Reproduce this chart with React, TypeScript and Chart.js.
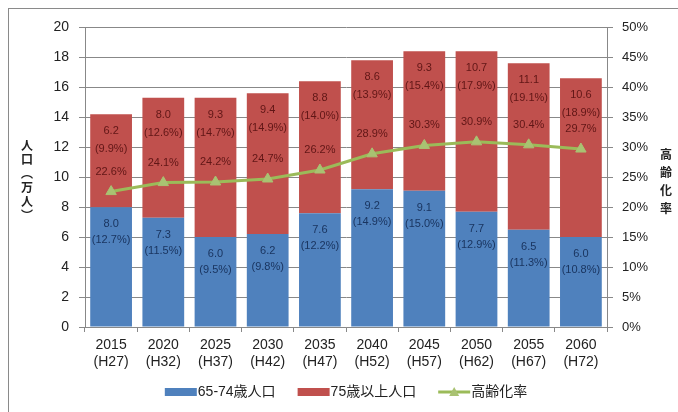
import React, { useEffect, useRef } from 'react';
import { Chart, registerables } from 'chart.js';

Chart.register(...registerables);

const years = ['2015', '2020', '2025', '2030', '2035', '2040', '2045', '2050', '2055', '2060'];
const heisei = ['(H27)', '(H32)', '(H37)', '(H42)', '(H47)', '(H52)', '(H57)', '(H62)', '(H67)', '(H72)'];
const pop6574 = [8.0, 7.3, 6.0, 6.2, 7.6, 9.2, 9.1, 7.7, 6.5, 6.0];
const pop75 = [6.2, 8.0, 9.3, 9.4, 8.8, 8.6, 9.3, 10.7, 11.1, 10.6];
const share6574 = [12.7, 11.5, 9.5, 9.8, 12.2, 14.9, 15.0, 12.9, 11.3, 10.8];
const share75 = [9.9, 12.6, 14.7, 14.9, 14.0, 13.9, 15.4, 17.9, 19.1, 18.9];
const agingRate = [22.6, 24.1, 24.2, 24.7, 26.2, 28.9, 30.3, 30.9, 30.4, 29.7];

const seriesNames = ['65-74歳人口', '75歳以上人口', '高齢化率'];
const leftTitle = ['人', '口', '︵', '万', '人', '︶'];
const rightTitle = ['高', '齢', '化', '率'];

const BLUE = '#4F81BD';
const RED = '#C0504D';
const GREEN = '#9BBB59';
const GRID = '#888888';
const FONT = '"Liberation Sans", Arial, "Noto Sans CJK JP", sans-serif';
const NARROW = '"Liberation Sans Narrow", "Liberation Sans", Arial, sans-serif';
const CJK = '"Noto Sans CJK JP", "Liberation Sans", sans-serif';

const labelPlugin = {
  id: 'valueLabels',
  afterDatasetsDraw(chart: any) {
    const ctx = chart.ctx;
    ctx.save();
    ctx.textAlign = 'center';
    ctx.textBaseline = 'middle';
    ctx.font = '11px ' + NARROW;
    const m0 = chart.getDatasetMeta(0);
    m0.data.forEach((el: any, i: number) => {
      ctx.fillStyle = '#1a3560';
      ctx.fillText(pop6574[i].toFixed(1), el.x, el.y + 17);
      ctx.fillText('(' + share6574[i].toFixed(1) + '%)', el.x, el.y + 33);
    });
    const m1 = chart.getDatasetMeta(1);
    m1.data.forEach((el: any, i: number) => {
      ctx.fillStyle = '#601616';
      ctx.fillText(pop75[i].toFixed(1), el.x, el.y + 17);
      ctx.fillText('(' + share75[i].toFixed(1) + '%)', el.x, el.y + 35);
    });
    const m2 = chart.getDatasetMeta(2);
    m2.data.forEach((el: any, i: number) => {
      ctx.fillStyle = '#601616';
      ctx.fillText(agingRate[i].toFixed(1) + '%', el.x, el.y - 20);
    });
    ctx.restore();
  },
  afterDraw(chart: any) {
    const ctx = chart.ctx;
    const area = chart.chartArea;
    ctx.save();
    ctx.fillStyle = '#222';
    ctx.textAlign = 'center';
    ctx.textBaseline = 'middle';
    ctx.font = 'bold 12px ' + CJK;
    leftTitle.forEach((c, i) => ctx.fillText(c, 18, 136 + i * 14));
    rightTitle.forEach((c, i) => ctx.fillText(c, 657, 145 + i * 18));

    ctx.font = '14px ' + FONT;
    const symW = 32;
    const gapSym = 1;
    const gapItem = 22;
    const widths = seriesNames.map((n) => ctx.measureText(n).width);
    const total = widths.reduce((a, w) => a + symW + gapSym + w, 0) + gapItem * (seriesNames.length - 1);
    let x = (area.left + area.right) / 2 - total / 2;
    const ly = 383;
    const colors = [BLUE, RED, GREEN];
    seriesNames.forEach((n, i) => {
      if (i < 2) {
        ctx.fillStyle = colors[i];
        ctx.fillRect(x, ly - 4, symW, 8);
      } else {
        ctx.strokeStyle = GREEN;
        ctx.lineWidth = 3;
        ctx.beginPath();
        ctx.moveTo(x, ly);
        ctx.lineTo(x + symW, ly);
        ctx.stroke();
        const cx = x + symW / 2;
        ctx.fillStyle = '#a9c272';
        ctx.beginPath();
        ctx.moveTo(cx, ly - 5);
        ctx.lineTo(cx + 5, ly + 4);
        ctx.lineTo(cx - 5, ly + 4);
        ctx.closePath();
        ctx.fill();
      }
      ctx.fillStyle = '#222';
      ctx.textAlign = 'left';
      ctx.fillText(n, x + symW + gapSym, ly);
      x += symW + gapSym + widths[i] + gapItem;
    });
    ctx.restore();
  },
};

export default function App() {
  const ref = useRef<HTMLCanvasElement | null>(null);

  useEffect(() => {
    if (!ref.current) return;
    const chart = new Chart(ref.current, {
      type: 'bar',
      data: {
        labels: years.map((y, i) => [y, heisei[i]]),
        datasets: [
          {
            type: 'bar',
            label: seriesNames[0],
            data: pop6574,
            backgroundColor: BLUE,
            stack: 'pop',
            yAxisID: 'y',
            order: 1,
            barPercentage: 0.8,
            categoryPercentage: 1,
          },
          {
            type: 'bar',
            label: seriesNames[1],
            data: pop75,
            backgroundColor: RED,
            stack: 'pop',
            yAxisID: 'y',
            order: 1,
            barPercentage: 0.8,
            categoryPercentage: 1,
          },
          {
            type: 'line',
            label: seriesNames[2],
            data: agingRate,
            borderColor: GREEN,
            borderWidth: 3,
            pointStyle: 'triangle',
            pointRadius: 6,
            pointBackgroundColor: '#a9c272',
            pointBorderColor: '#a9c272',
            pointBorderWidth: 1,
            tension: 0,
            yAxisID: 'y1',
            order: 0,
          },
        ],
      } as any,
      options: {
        responsive: false,
        animation: false,
        devicePixelRatio: 1,
        layout: { padding: { top: 16, left: 0, right: 0, bottom: 0 } },
        plugins: {
          legend: { display: false },
          tooltip: { enabled: false },
        },
        scales: {
          x: {
            stacked: true,
            offset: true,
            grid: {
              display: true,
              drawOnChartArea: false,
              drawTicks: true,
              tickLength: 5,
              color: GRID,
              offset: true,
            },
            border: { display: true, color: GRID },
            ticks: {
              color: '#222',
              font: { family: FONT, size: 14, lineHeight: 1.2 },
              padding: 5,
              maxRotation: 0,
              autoSkip: false,
            },
            afterFit: (s: any) => {
              s.height = 85;
            },
          },
          y: {
            stacked: true,
            position: 'left',
            min: 0,
            max: 20,
            ticks: {
              stepSize: 2,
              color: '#222',
              font: { family: FONT, size: 14 },
              padding: 10,
            },
            grid: { color: GRID, tickLength: 6, drawTicks: true },
            border: { display: true, color: GRID },
            afterFit: (s: any) => {
              s.width = 76;
            },
          },
          y1: {
            position: 'right',
            min: 0,
            max: 50,
            ticks: {
              stepSize: 5,
              color: '#222',
              font: { family: FONT, size: 13 },
              padding: 9,
              callback: (v: any) => v + '%',
            },
            grid: { drawOnChartArea: false, color: GRID, tickLength: 6, drawTicks: true },
            border: { display: true, color: GRID },
            afterFit: (s: any) => {
              s.width = 71;
            },
          },
        },
      } as any,
      plugins: [labelPlugin],
    });
    return () => chart.destroy();
  }, []);

  return (
    <div
      style={{
        position: 'absolute',
        top: 8,
        left: 8,
        width: 669,
        height: 403,
        borderTop: '1px solid #8a8a8a',
        borderLeft: '1px solid #8a8a8a',
        background: '#fff',
      }}
    >
      <canvas ref={ref} width={669} height={403} style={{ display: 'block' }} />
    </div>
  );
}
